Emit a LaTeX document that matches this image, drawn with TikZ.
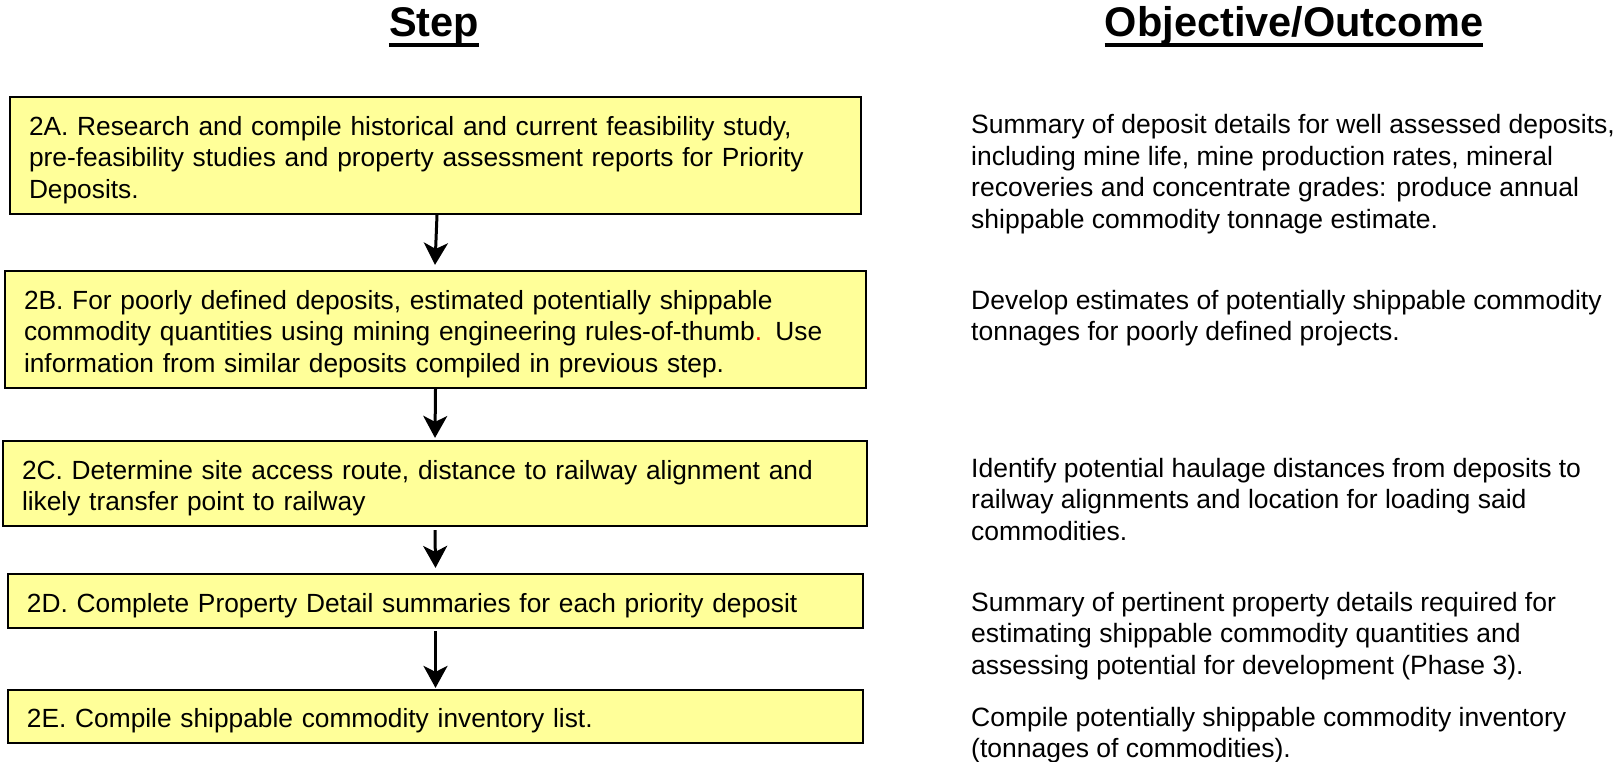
\documentclass[tikz,border=0pt]{standalone}
\usepackage{fontspec}
\setmainfont{Liberation Sans}
\usetikzlibrary{arrows.meta,positioning}
\definecolor{StepYellow}{HTML}{FFFF99}

\begin{document}
\begin{tikzpicture}[x=1pt,y=-1pt,
    stepbox/.style={draw=black,line width=2.2pt,fill=StepYellow,
      align=left,inner xsep=19pt,inner ysep=0pt,
      font=\fontsize{26.3}{31.5}\selectfont,
      execute at begin node={\rule{0pt}{28pt}}},
    outcome/.style={anchor=base west,align=left,inner sep=0pt,
      font=\fontsize{26.5}{31.5}\selectfont},
    heading/.style={anchor=base,inner sep=0pt,
      font=\fontsize{41.5}{48}\selectfont\bfseries},
    flow/.style={line width=3pt,-{Stealth[length=22pt,width=24pt,inset=6pt]}}]
  \useasboundingbox (0,0) rectangle (1623,762);

  % column headings
  \node[heading] (stepHead) at (434,37) {Step};
  \node[heading] (outHead) at (1294,37) {Objective/Outcome};
  \draw[line width=4pt] ([yshift=-8.5pt]stepHead.base west) -- ([yshift=-8.5pt]stepHead.base east);
  \draw[line width=4pt] ([yshift=-8.5pt]outHead.base west) -- ([yshift=-8.5pt]outHead.base east);

  % steps
  \node[stepbox,text width=813pt,minimum height=117pt] (stepA) at (435.5,155.5)
    {2A. Research and compile historical and current feasibility study,\\
     pre-feasibility studies and property assessment reports for Priority\\
     Deposits.};
  \node[stepbox,text width=823pt,minimum height=117pt] (stepB) at (435.5,329.5)
    {2B. For poorly defined deposits, estimated potentially shippable\\
     commodity quantities using mining engineering rules-of-thumb\textcolor{red}{.} Use\\
     information from similar deposits compiled in previous step.};
  \node[stepbox,text width=826pt,minimum height=85pt] (stepC) at (435,483.5)
    {2C. Determine site access route, distance to railway alignment and\\
     likely transfer point to railway};
  \node[stepbox,text width=817pt,minimum height=54pt] (stepD) at (435.5,601)
    {2D. Complete Property Detail summaries for each priority deposit};
  \node[stepbox,text width=817pt,minimum height=53pt] (stepE) at (435.5,716.5)
    {2E. Compile shippable commodity inventory list.};

  % outcomes (base = baseline of the last line)
  \node[outcome] (outA) at (971,228.5)
    {Summary of deposit details for well assessed deposits,\\
     including mine life, mine production rates, mineral\\
     recoveries and concentrate grades: produce annual\\
     shippable commodity tonnage estimate.};
  \node[outcome] (outB) at (971,340.5)
    {Develop estimates of potentially shippable commodity\\
     tonnages for poorly defined projects.};
  \node[outcome] (outC) at (971,540)
    {Identify potential haulage distances from deposits to\\
     railway alignments and location for loading said\\
     commodities.};
  \node[outcome] (outD) at (971,674)
    {Summary of pertinent property details required for\\
     estimating shippable commodity quantities and\\
     assessing potential for development (Phase 3).};
  \node[outcome] (outE) at (971,757.5)
    {Compile potentially shippable commodity inventory\\
     (tonnages of commodities).};

  % flow between steps
  \draw[flow] ([xshift=1.5pt]stepA.south) -- ([xshift=-0.5pt,yshift=5pt]stepB.north);
  \draw[flow] (stepB.south) -- ([yshift=2pt]stepC.north);
  \draw[flow] ([yshift=-3pt]stepC.south) -- ([yshift=5pt]stepD.north);
  \draw[flow] ([yshift=-2pt]stepD.south) -- ([yshift=1pt]stepE.north);
\end{tikzpicture}
\end{document}
